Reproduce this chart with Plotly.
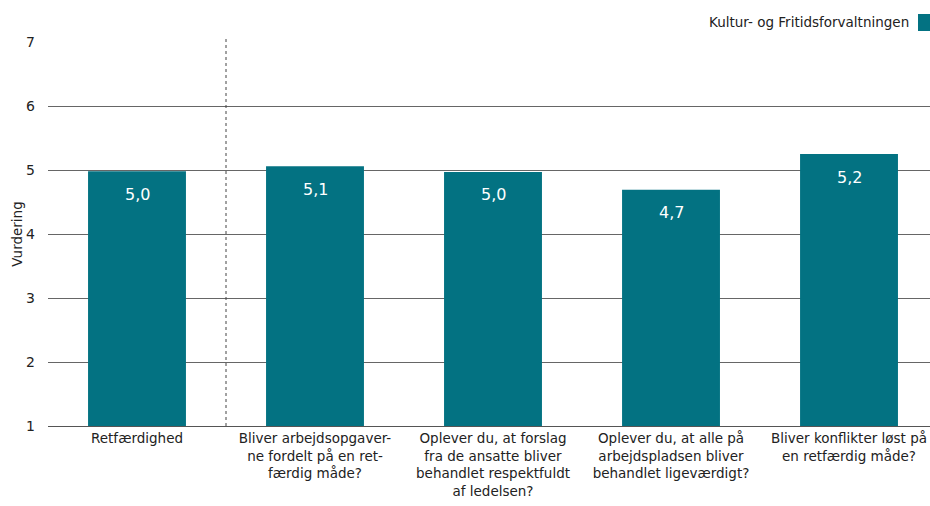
import plotly.graph_objects as go

categories = [
    "Retfærdighed",
    "Bliver arbejdsopgaver-<br>ne fordelt på en ret-<br>færdig måde?",
    "Oplever du, at forslag<br>fra de ansatte bliver<br>behandlet respektfuldt<br>af ledelsen?",
    "Oplever du, at alle på<br>arbejdspladsen bliver<br>behandlet ligeværdigt?",
    "Bliver konflikter løst på<br>en retfærdig måde?",
]
values = [4.98, 5.06, 4.97, 4.69, 5.25]
labels = ["5,0", "5,1", "5,0", "4,7", "5,2"]
series_name = "Kultur- og Fritidsforvaltningen"
y_ticks = [1, 2, 3, 4, 5, 6, 7]

color = "#037282"
font = "DejaVu Sans"

FW, FH = 930, 506
L, T, W, H = 48, 42, 882, 384


def px_x(sx):
    return (sx - L) / W


def px_y(sy):
    return (T + H - sy) / H


fig = go.Figure()
fig.add_trace(go.Bar(
    x=list(range(len(categories))),
    y=values,
    marker=dict(color=color, line=dict(width=0)),
    width=0.55,
    showlegend=False,
    name=series_name,
    hoverinfo="y",
))

annotations = [
    dict(text=series_name, xref="paper", yref="paper",
         x=px_x(911), y=px_y(22), xanchor="right", yanchor="middle",
         showarrow=False, font=dict(size=13.5, family=font, color="#222")),
]
for i, (v, lab) in enumerate(zip(values, labels)):
    annotations.append(dict(
        text=lab, x=i, y=v, xref="x", yref="y", yanchor="middle", xanchor="center",
        yshift=-23, showarrow=False,
        font=dict(color="white", size=16, family=font),
    ))

fig.update_layout(
    width=FW, height=FH,
    margin=dict(l=L, r=FW - L - W, t=T, b=FH - T - H, autoexpand=False),
    plot_bgcolor="white", paper_bgcolor="white",
    font=dict(family=font, size=13.5, color="#222"),
    xaxis=dict(
        range=[-0.5, 4.455],
        tickmode="array",
        tickvals=list(range(len(categories))),
        ticktext=categories,
        showgrid=False,
        showline=True, linecolor="#555", linewidth=1,
        ticks="", zeroline=False, automargin=False,
        tickfont=dict(size=13.5, family=font),
    ),
    yaxis=dict(
        range=[1, 7],
        tickvals=y_ticks,
        showgrid=True, gridcolor="#666", gridwidth=1,
        zeroline=False, ticks="", automargin=False,
        tickfont=dict(size=14, family=font),
        title=dict(text="Vurdering", font=dict(size=13.5, family=font), standoff=0),
        ticklabelstandoff=12,
    ),
    shapes=[
        dict(type="line", xref="x", yref="paper", x0=0.5, x1=0.5, y0=0, y1=px_y(39),
             line=dict(color="#444", width=1, dash="dot")),
        dict(type="rect", xref="paper", yref="paper", layer="above",
             x0=px_x(918), x1=px_x(930),
             y0=px_y(31), y1=px_y(14),
             fillcolor=color, line=dict(width=0)),
    ],
    annotations=annotations,
)

fig.write_html(
    "out.html",
    config={"displayModeBar": False},
    post_script="document.body.style.margin='0';document.body.style.overflow='hidden';",
)
